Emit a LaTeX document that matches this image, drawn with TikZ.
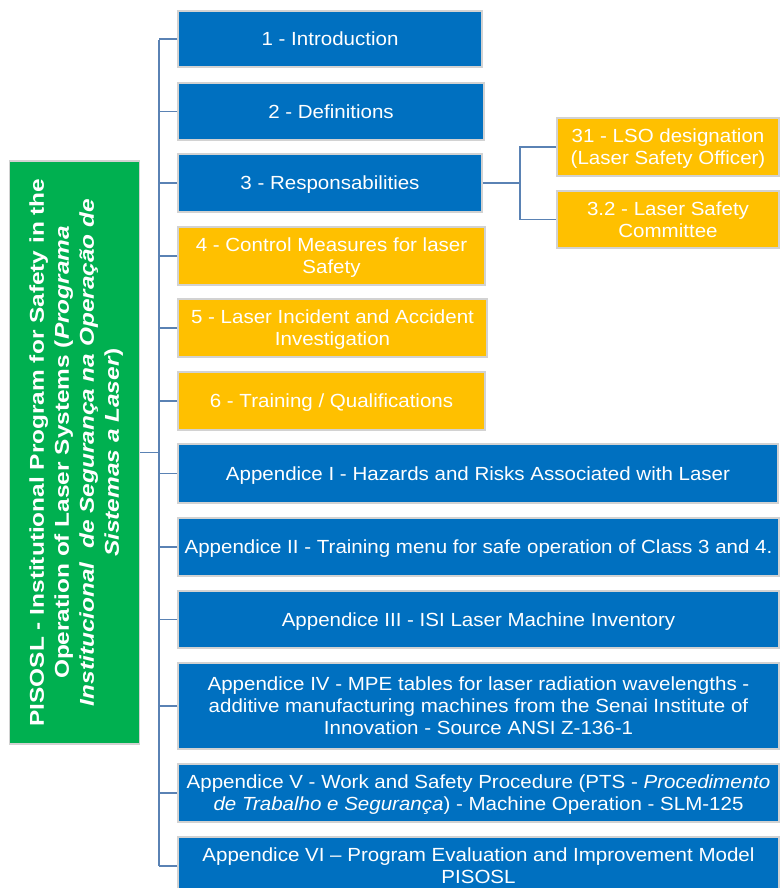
\documentclass[tikz,border=0pt]{standalone}
\usepackage{fontspec}
\setmainfont[FakeStretch=1.08]{Liberation Sans}
\newfontfamily\greenfont[FakeStretch=1.22]{Liberation Sans}
\definecolor{bblue}{HTML}{0070C0}
\definecolor{byellow}{HTML}{FFC000}
\definecolor{bgreen}{HTML}{00B050}
\definecolor{conncol}{HTML}{5A82B4}
\definecolor{edgecol}{HTML}{D2D2D2}
\tikzset{
  boxbase/.style={draw=edgecol, line width=1.2pt, inner sep=2pt, align=center, text=white,
    font=\fontsize{19}{22}\selectfont, text depth=4pt, text height=17.2pt},
  twol/.style={text height=39.2pt},
  threel/.style={text height=61.2pt},
  bluebox/.style={boxbase, fill=bblue},
  yelbox/.style={boxbase, fill=byellow},
  conn/.style={draw=conncol, line width=1.8pt},
}
\begin{document}
\begin{tikzpicture}[x=1pt,y=-1pt]
\useasboundingbox (0,0) rectangle (779,888);
% green root
\node[boxbase, fill=bgreen, rotate=90, minimum width=583pt, minimum height=130pt,
  font=\greenfont\bfseries\fontsize{20}{25}\selectfont, text height=93.1pt, text depth=4.2pt] (root) at (74.5,452.5)
  {PISOSL - Institutional Program for Safety in the\\
   Operation of Laser Systems (\textit{Programa}\\
   \textit{Institucional\ \ de Segurança na Operação de}\\
   \textit{Sistemas a Laser})};
% main boxes
\node[bluebox, minimum width=304pt, minimum height=56pt] (b1) at (330,39) {1 - Introduction};
\node[bluebox, minimum width=306pt, minimum height=57pt] (b2) at (331,111.5) {2 - Definitions};
\node[bluebox, minimum width=304pt, minimum height=58pt] (b3) at (330,183) {3 - Responsabilities};
\node[yelbox, twol, minimum width=307pt, minimum height=58pt] (b4) at (331.5,256) {4 - Control Measures for laser\\Safety};
\node[yelbox, twol, minimum width=309pt, minimum height=58pt] (b5) at (332.5,328) {5 - Laser Incident and Accident\\Investigation};
\node[yelbox, minimum width=307pt, minimum height=58pt] (b6) at (331.5,401) {6 - Training / Qualifications};
\node[bluebox, minimum width=600pt, minimum height=59pt] (a1) at (478,473.5) {Appendice I - Hazards and Risks Associated with Laser};
\node[bluebox, minimum width=601pt, minimum height=58pt] (a2) at (478.5,547) {Appendice II - Training menu for safe operation of Class 3 and 4.};
\node[bluebox, minimum width=601pt, minimum height=57pt] (a3) at (478.5,619.5) {Appendice III - ISI Laser Machine Inventory};
\node[bluebox, threel, minimum width=601pt, minimum height=86pt] (a4) at (478.5,706) {Appendice IV - MPE tables for laser radiation wavelengths -\\additive manufacturing machines from the Senai Institute of\\Innovation - Source ANSI Z-136-1};
\node[bluebox, twol, minimum width=601pt, minimum height=58pt] (a5) at (478.5,793) {Appendice V - Work and Safety Procedure (PTS - \textit{Procedimento}\\\textit{de Trabalho e Segurança}) - Machine Operation - SLM-125};
\node[bluebox, twol, minimum width=601pt, minimum height=58pt] (a6) at (478.5,866) {Appendice VI -- Program Evaluation and Improvement Model\\PISOSL};
% sub boxes
\node[yelbox, twol, minimum width=222pt, minimum height=58pt] (s1) at (668,147) {31 - LSO designation\\(Laser Safety Officer)};
\node[yelbox, twol, minimum width=222pt, minimum height=57pt] (s2) at (668,219.5) {3.2 - Laser Safety\\Committee};
% connectors
\coordinate (ttop) at (159,40);
\coordinate (tbot) at (159,866);
\coordinate (sj) at (520,183);
\draw[conn] (ttop) -- (tbot);
\draw[conn] (root.south) -- (root.south -| ttop);
\foreach \n in {b1,b2,b3,b4,b5,b6,a1,a2,a3,a4,a5,a6}
  \draw[conn] (\n.west) -- (\n.west -| ttop);
\draw[conn] (b3.east) -- (sj);
\draw[conn] (s1.west) -| (sj) |- (s2.west);
\end{tikzpicture}
\end{document}
